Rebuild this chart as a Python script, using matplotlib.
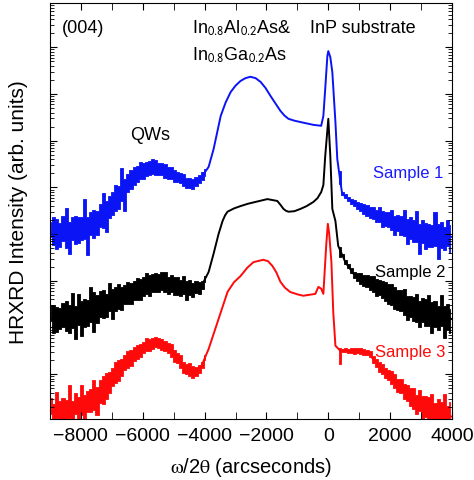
"""HRXRD (004) omega/2theta scans of the three QW samples, log intensity."""
import matplotlib
matplotlib.use("Agg")
import matplotlib.pyplot as plt
import numpy as np
from matplotlib.ticker import LogLocator, MultipleLocator, NullFormatter

plt.rcParams["font.family"] = ["Liberation Sans", "DejaVu Sans"]
plt.rcParams["mathtext.fontset"] = "stix"

# omega/2theta (arcsec) and log10 intensity of the smoothed scans
x1 = [-9000, -8320, -7650, -7190, -6870, -6550, -6230, -5900, -5580, -5260,
      -4940, -4610, -4420, -4100, -3870, -3710, -3480, -3320, -3160, -3000,
      -2840, -2680, -2520, -2350, -2190, -2030, -1870, -1710, -1550, -1420,
      -1290, -1100, -900, -480, -230, -160, -100, -30, 0, 65,
      130, 230, 290, 390, 450, 770, 1290, 2070, 2710, 3130, 4000]
s1 = [4.00, 4.07, 4.18, 4.48, 4.75, 5.03, 5.29, 5.40, 5.44, 5.35,
      5.25, 5.12, 5.07, 5.22, 5.44, 5.82, 6.53, 6.82, 7.04, 7.18,
      7.28, 7.34, 7.37, 7.34, 7.26, 7.13, 6.96, 6.80, 6.64, 6.54,
      6.47, 6.43, 6.40, 6.34, 6.32, 6.53, 7.11, 7.82, 7.92, 7.79,
      7.47, 6.40, 5.61, 5.12, 4.86, 4.69, 4.48, 4.26, 4.09, 3.98, 3.94]

x2 = [-9000, -7970, -7420, -6870, -6350, -5810, -5390, -4940, -4420, -4100,
      -3870, -3710, -3550, -3420, -3340, -3260, -3050, -2840, -2600, -2350,
      -1970, -1650, -1550, -1450, -1370, -1290, -1100, -900, -700, -480,
      -350, -230, -160, -100, 0, 65, 130, 230, 320, 550, 870, 1520,
      2070, 2710, 3450, 4000]
s2 = [2.18, 2.27, 2.46, 2.61, 2.76, 2.93, 2.98, 2.89, 2.83, 2.89,
      3.19, 3.58, 4.00, 4.28, 4.40, 4.48, 4.55, 4.60, 4.65, 4.69,
      4.75, 4.71, 4.63, 4.54, 4.50, 4.48, 4.49, 4.54, 4.60, 4.69,
      4.77, 4.90, 5.05, 5.67, 6.47, 5.67, 4.54, 4.28, 3.75, 3.40, 3.10, 2.89,
      2.68, 2.40, 2.27, 2.18]

x3 = [-9000, -7970, -7420, -7100, -6770, -6350, -5900, -5580, -5260, -4940,
      -4610, -4290, -4100, -3870, -3550, -3260, -3050, -2840, -2620, -2420,
      -2100, -1950, -1810, -1680, -1550, -1400, -1230, -1000, -810, -420,
      -320, -230, -160, -65, -15, 30, 100, 160,
      230, 390, 970, 1290, 1610, 2070, 2480, 2810, 3450, 4000]
s3 = [0.19, 0.32, 0.54, 0.84, 1.11, 1.39, 1.61, 1.69, 1.61, 1.39,
      1.11, 1.05, 1.18, 1.54, 2.18, 2.76, 2.97, 3.10, 3.28, 3.40,
      3.45, 3.42, 3.32, 3.18, 2.98, 2.85, 2.76, 2.71, 2.68, 2.72,
      2.87, 2.83, 2.72, 3.79, 4.22, 4.00, 3.40, 2.33,
      1.61, 1.50, 1.50, 1.46, 1.18, 0.90, 0.62, 0.41, 0.19, 0.09]

# counting-noise excursions (decades) read off the noisy tails,
# left tail every 100 arcsec from -8980, right tail every 100 arcsec from 350
nl1 = [0.25, -0.35, 0.3, -0.2, 0.35, -0.5, 0.2, -0.3, 0.3, -0.25,
       0.25, -0.6, 0.2, -0.3, 0.3, -0.2, 0.28, -0.45, 0.22, -0.25,
       0.25, -0.3, 0.2, -0.5, 0.18, -0.2, 0.2, -0.18, 0.15, -0.2,
       0.16, -0.15, 0.15, -0.18, 0.14, -0.12, 0.15, -0.15, 0.12, -0.14,
       0.12, -0.1, 0.12, -0.13, 0.1, -0.12, 0.1, -0.08, 0.08, -0.1, 0.06]
nr1 = [0.03, -0.04, 0.05, -0.05, 0.06, -0.08, 0.08, -0.1, 0.1, -0.12,
       0.12, -0.15, 0.12, -0.2, 0.15, -0.15, 0.18, -0.25, 0.15, -0.2,
       0.2, -0.35, 0.2, -0.25, 0.22, -0.45, 0.2, -0.3, 0.25, -0.25,
       0.22, -0.5, 0.25, -0.3, 0.2, -0.35, 0.25]
nl2 = [0.3, -0.3, 0.25, -0.2, 0.3, -0.35, 0.25, -0.5, 0.2, -0.45,
       0.3, -0.3, 0.25, -0.5, 0.35, -0.25, 0.3, -0.3, 0.2, -0.4,
       0.25, -0.25, 0.3, -0.2, 0.22, -0.25, 0.2, -0.22, 0.25, -0.2,
       0.2, -0.25, 0.18, -0.2, 0.2, -0.18, 0.2, -0.22, 0.15, -0.2,
       0.18, -0.2, 0.15, -0.25, 0.15, -0.18, 0.12, -0.15, 0.1, -0.08, 0.05]
nr2 = [0.02, -0.03, 0.04, -0.05, 0.06, -0.08, 0.1, -0.12, 0.12, -0.15,
       0.15, -0.2, 0.15, -0.18, 0.2, -0.22, 0.2, -0.25, 0.22, -0.2,
       0.25, -0.3, 0.2, -0.25, 0.25, -0.35, 0.22, -0.3, 0.28, -0.4,
       0.25, -0.3, 0.2, -0.45, 0.25, -0.3, 0.2]
nl3 = [0.3, -0.15, 0.4, -0.2, 0.25, -0.2, 0.5, -0.15, 0.3, -0.2,
       0.45, -0.2, 0.25, -0.25, 0.4, -0.2, 0.3, -0.3, 0.25, -0.2,
       0.2, -0.25, 0.2, -0.15, 0.18, -0.2, 0.15, -0.15, 0.15, -0.12,
       0.12, -0.15, 0.12, -0.1, 0.1, -0.12, 0.12, -0.1, 0.12, -0.15,
       0.1, -0.12, 0.15, -0.1, 0.12, -0.15, 0.1, -0.1, 0.08, -0.06, 0.04]
nr3 = [0.03, -0.03, 0.05, -0.04, 0.06, -0.05, 0.05, -0.06, 0.06, -0.05,
       0.08, -0.08, 0.1, -0.1, 0.12, -0.1, 0.12, -0.15, 0.15, -0.12,
       0.18, -0.15, 0.2, -0.2, 0.25, -0.15, 0.3, -0.2, 0.25, -0.25,
       0.35, -0.2, 0.3, -0.25, 0.45, -0.2, 0.3]

blue, red = "#0a14f5", "#ff0a0a"
scans = [(x1, s1, nl1, nr1, blue), (x2, s2, nl2, nr2, "black"), (x3, s3, nl3, nr3, red)]

fig = plt.figure(figsize=(4.74, 4.81), dpi=100)
ax = fig.add_axes([50 / 474, 61 / 481, 402 / 474, 416 / 481])

grid_l = np.arange(-8980, -3970, 100)
grid_r = np.arange(350, 4000, 100)
for xs, s, nl, nr, c in scans:
    ax.plot(xs, 10 ** np.array(s), color=c, lw=1.4)
    for g, n in ((grid_l, nl), (grid_r, nr)):
        n = np.array(n)
        mid = np.interp(g, xs, s)
        # jagged noise band: upper edge from the excursion at this sample,
        # lower edge from the neighbouring one
        up = mid + np.abs(n)
        lo = mid - np.abs(np.roll(n, 1))
        ax.fill_between(g, 10 ** lo, 10 ** up, color=c, lw=0.6, step="mid")

ax.set_yscale("log")
ax.set_xlim(-9000, 4000)
ax.set_ylim(10 ** 0.04, 10 ** 8.95)
ax.xaxis.set_major_locator(MultipleLocator(2000))
ax.xaxis.set_minor_locator(MultipleLocator(1000))
ax.yaxis.set_major_locator(LogLocator(base=10, numticks=20))
ax.yaxis.set_minor_locator(LogLocator(base=10, subs=np.arange(2, 10), numticks=20))
ax.yaxis.set_major_formatter(NullFormatter())
ax.yaxis.set_minor_formatter(NullFormatter())
ax.tick_params(which="both", direction="in", top=True, right=True, labelsize=14, pad=6)
ax.tick_params(which="major", length=5)
ax.tick_params(which="minor", length=3)
ax.tick_params(axis="x", which="minor", length=5)

ax.set_xlabel(r"$\mathrm{\omega}$/2$\mathrm{\theta}$ (arcseconds)", fontsize=14.5, labelpad=8)
ax.set_ylabel("HRXRD Intensity (arb. units)", fontsize=15, labelpad=10)

kw = dict(transform=ax.transAxes, fontsize=13, va="baseline")
ax.text(0.030, 0.930, "(004)", **kw)
ax.text(0.353, 0.930, r"In$_{\mathsf{0.8}}$Al$_{\mathsf{0.2}}$As&", **kw)
ax.text(0.353, 0.863, r"In$_{\mathsf{0.8}}$Ga$_{\mathsf{0.2}}$As", **kw)
ax.text(0.647, 0.930, "InP substrate", **kw)
ax.text(0.199, 0.673, "QWs", **kw)
kw.update(fontsize=12, ha="right")
ax.text(0.978, 0.582, "Sample 1", color="#1a1aff", **kw)
ax.text(0.983, 0.344, "Sample 2", color="black", **kw)
ax.text(0.983, 0.151, "Sample 3", color=red, **kw)

fig.savefig("out.png", dpi=100)
